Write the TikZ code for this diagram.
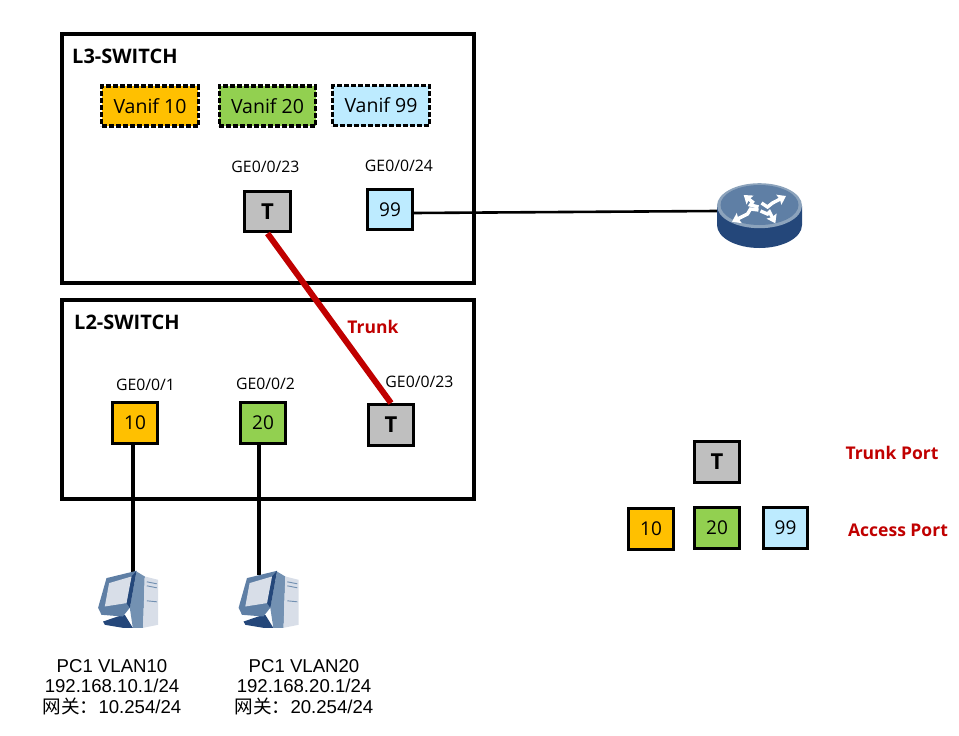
\documentclass[tikz,border=0pt]{standalone}
\usepackage{fontspec}
\setmainfont{Open Sans}
\newfontfamily\labelfont{Liberation Sans}
\newfontfamily\cjk{Noto Sans CJK SC}
\usetikzlibrary{arrows.meta}
\definecolor{vorange}{HTML}{FFC000}
\definecolor{vgreen}{HTML}{92D050}
\definecolor{vblue}{HTML}{BDEBFF}
\definecolor{tgrey}{HTML}{BFBFBF}
\definecolor{trunkred}{HTML}{C00000}
\definecolor{iconblue}{HTML}{5F7FA5}
\definecolor{iconrim}{HTML}{8CA3BC}
\definecolor{iconmid}{HTML}{7391B2}
\definecolor{icondark}{HTML}{24477A}
\definecolor{iconpale}{HTML}{D8DEE8}
\tikzset{
  switchbox/.style={draw, line width=3.2pt, inner sep=0pt},
  portbox/.style={draw, line width=3.4pt, minimum width=44.5pt, minimum height=40.5pt, inner sep=0pt, font=\fontsize{19}{20}\selectfont},
  trunkbox/.style={portbox, fill=tgrey, minimum width=45.5pt, font=\fontsize{22}{20}\selectfont\bfseries},
  vanifbox/.style={draw, line width=3.2pt, dash pattern=on 5pt off 2pt, minimum width=96.5pt, minimum height=40pt, inner sep=0pt, font=\fontsize{19.5}{20}\selectfont},
  iconbox/.style={inner sep=0pt, minimum width=60pt, minimum height=58pt},
  geport/.style={inner sep=0pt, font=\fontsize{15.8}{15}\selectfont},
  swname/.style={inner sep=0pt, font=\fontsize{20}{20}\selectfont\bfseries},
  redname/.style={inner sep=0pt, text=trunkred, font=\fontsize{17.5}{20}\selectfont\bfseries},
  pcname/.style={inner sep=0pt, align=center, font=\fontsize{18.6}{20.5}\selectfont\labelfont},
  routerarrow/.style={white, line width=3.4pt, line join=miter, -{Stealth[length=8pt, width=11pt, inset=1pt]}},
  pcicon/.pic={
    \fill[iconmid] (38.7,0.7) -- (47,5.7) -- (45.3,57) -- (35,57) -- (32,37) -- cycle;
    \fill[iconpale] (47,5.7) -- (60.3,9) -- (60.3,54) -- (45.3,57) -- cycle;
    \draw[iconmid, line width=.9pt] (49,11) -- (59,13) (49,15) -- (59,17) (49,30) -- (59,31);
    \fill[icondark] (5.3,50.7) -- (20,45.7) -- (27,44) -- (35,57) -- (25,57) -- (7,54) -- cycle;
    \fill[iconblue] (0.3,37) -- (8.7,7.3) -- (38.7,0) -- (32,37) -- (25,45.7) -- (3.7,44) -- cycle;
    \fill[icondark] (33.7,5.7) -- (38.7,0) -- (32,37) -- (28.7,32.3) -- cycle;
    \fill[iconpale] (7,35.7) -- (11.3,12.3) -- (33.7,5.7) -- (28.7,32.3) -- cycle;
  },
  routericon/.pic={
    \fill[icondark] (-42.5,-5) -- (-42.5,14) arc[x radius=42.5, y radius=23, start angle=180, end angle=0] -- (42.5,-5) -- cycle;
    \fill[iconrim] (0,-5.3) ellipse[x radius=42.5, y radius=22.5];
    \fill[iconblue] (0,-6) ellipse[x radius=39, y radius=20];
    \draw[routerarrow] (-1,-4) -- (-9,-6) -- (-7,-9) -- (-15.8,-16);
    \draw[routerarrow] (2,-8) -- (8,-4) -- (13,-8) -- (26.5,-15);
    \draw[routerarrow] (-1,-1) -- (-9,-2) -- (-12,3) -- (-27.5,10.7);
    \draw[routerarrow] (1,0) -- (8,3) -- (10,1) -- (15.8,12.3);
  }
}
\begin{document}
\begin{tikzpicture}[x=1pt, y=-1pt]
  \useasboundingbox (0,0) rectangle (959,736);

  % switch frames
  \node (l3box) [switchbox, minimum width=412pt, minimum height=249pt] at (268,158.5) {};
  \node (l2box) [switchbox, minimum width=412pt, minimum height=199pt] at (268,399.5) {};
  \node (l3name) [swname, anchor=west] at (72,56) {L3-SWITCH};
  \node (l2name) [swname, anchor=west] at (74,322) {L2-SWITCH};

  % vlan interfaces
  \node (vanifA) [vanifbox, fill=vorange] at (150,106) {Vanif 10};
  \node (vanifB) [vanifbox, fill=vgreen] at (267.5,106) {Vanif 20};
  \node (vanifC) [vanifbox, fill=vblue] at (381,105.5) {Vanif 99};

  % icons
  \node (router) [iconbox, minimum width=85pt, minimum height=66pt] at (759.5,211) {};
  \node (pcA) [iconbox] at (128,600) {};
  \node (pcB) [iconbox] at (268.5,600) {};

  % ports
  \node (l3t) [trunkbox] at (267.5,211.5) {T};
  \node (l3p) [portbox, fill=vblue] at (390,209.5) {99};
  \node (l2a) [portbox, fill=vorange] at (135,423) {10};
  \node (l2b) [portbox, fill=vgreen] at (263,423) {20};
  \node (l2t) [trunkbox] at (391,425) {T};

  % links
  \draw[line width=2.6pt] (l3p.east) ++(0,3.5) -- (router.west);
  \draw[trunkred, line width=6pt] (l3t.south) -- (l2t.north);
  \draw[line width=3.4pt] (l2a.south) ++(-2,0) -- ++(0,130);
  \draw[line width=3.4pt] (l2b.south) ++(-4,0) -- ++(0,130);

  \pic at (router.center) {routericon};
  \pic at (pcA.north west) {pcicon};
  \pic at (pcB.north west) {pcicon};

  % port names
  \node (ge323) [geport] at (265.5,167) {GE0/0/23};
  \node (ge324) [geport] at (399,166) {GE0/0/24};
  \node (ge21) [geport] at (145.5,385) {GE0/0/1};
  \node (ge22) [geport] at (265.5,384) {GE0/0/2};
  \node (ge223) [geport] at (419.5,382) {GE0/0/23};
  \node (trunk) [redname] at (373,327) {Trunk};

  % hosts
  \node (pcAname) [pcname] at (112,687) {PC1 VLAN10\\192.168.10.1/24\\{\cjk 网关：}10.254/24};
  \node (pcBname) [pcname] at (304,687) {PC1 VLAN20\\192.168.20.1/24\\{\cjk 网关：}20.254/24};

  % legend
  \node (keyt) [trunkbox] at (717,462) {T};
  \node (keya) [portbox, fill=vorange] at (651,529) {10};
  \node (keyb) [portbox, fill=vgreen] at (717,528) {20};
  \node (keyc) [portbox, fill=vblue] at (785.5,528) {99};
  \node (keytrunk) [redname] at (892,453) {Trunk Port};
  \node (keyaccess) [redname] at (898,530) {Access Port};
\end{tikzpicture}
\end{document}
